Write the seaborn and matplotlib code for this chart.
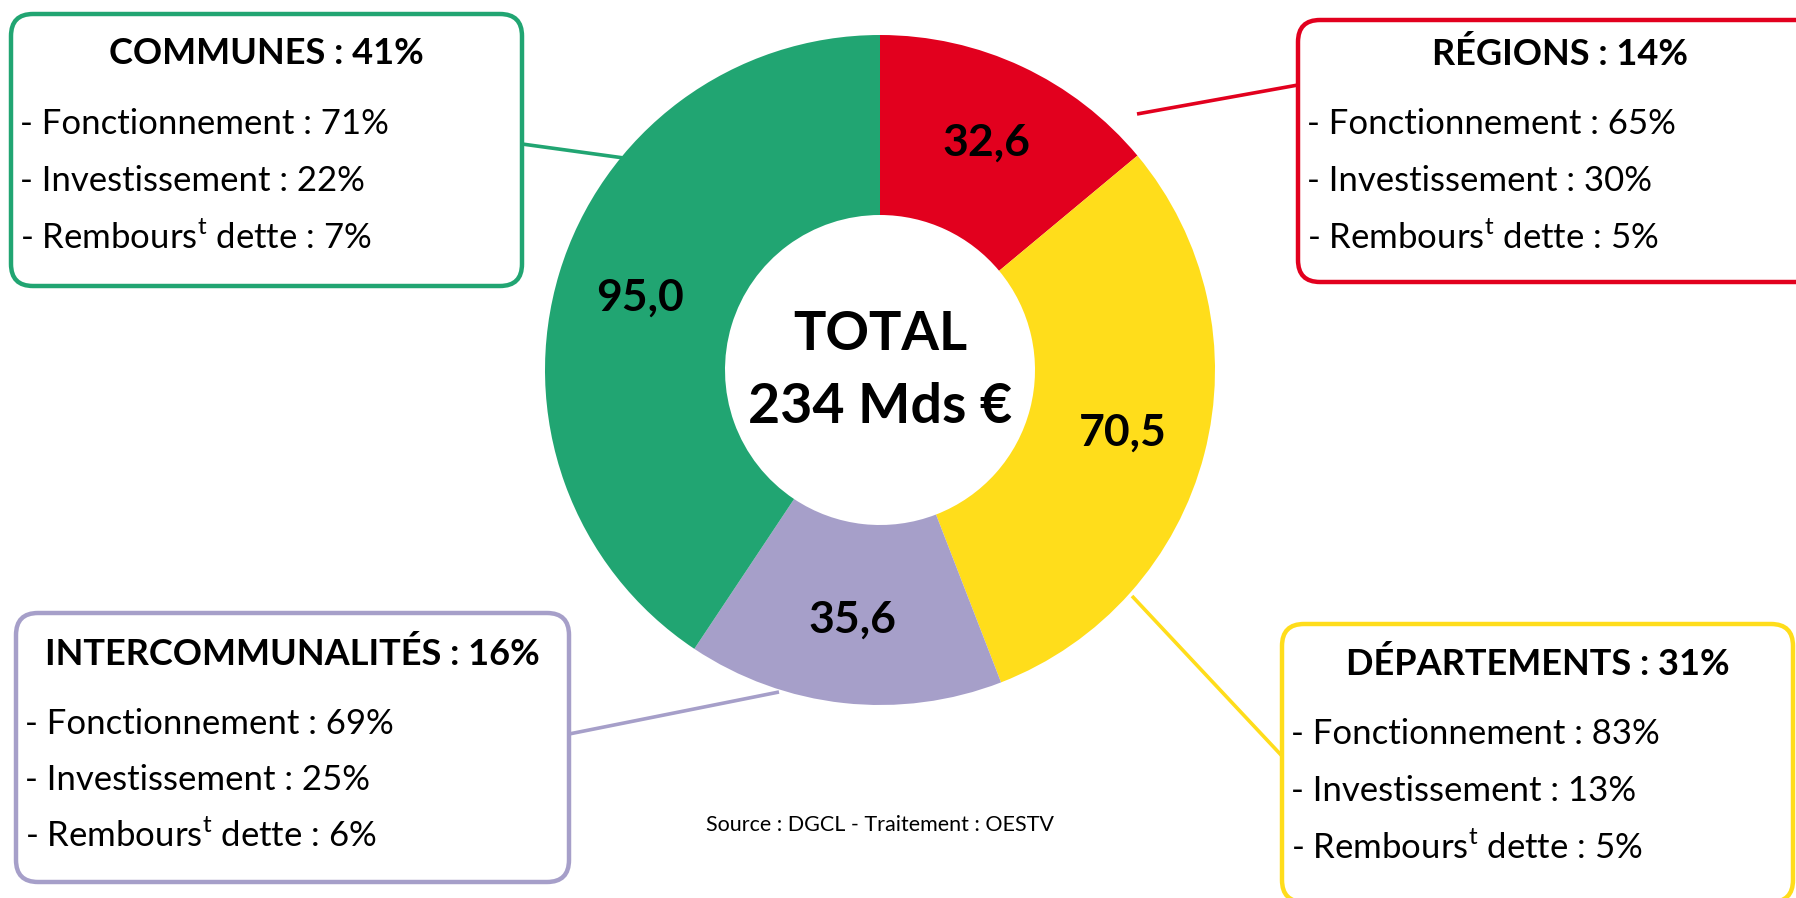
import matplotlib
matplotlib.use("Agg")
import matplotlib.pyplot as plt
from matplotlib.patches import FancyBboxPatch
import seaborn as sns

# data
categories = ["RÉGIONS", "DÉPARTEMENTS", "INTERCOMMUNALITÉS", "COMMUNES"]
amounts = [32.6, 70.5, 35.6, 95.0]
shares = [14, 31, 16, 41]
fonctionnement = [65, 83, 69, 71]
investissement = [30, 13, 25, 22]
remboursement = [5, 5, 6, 7]
colors = ["#E2001E", "#FFDD1B", "#A69FC9", "#21A572"]
total_label = "234 Mds €"
source = "Source : DGCL - Traitement : OESTV"

W, H = 1796, 898

sns.set_theme(style="white")
plt.rcParams["font.family"] = ["Lato", "DejaVu Sans"]
plt.rcParams["text.color"] = "black"
plt.rcParams["mathtext.fontset"] = "custom"
plt.rcParams["mathtext.rm"] = "Lato"

fig = plt.figure(figsize=(W / 100, H / 100), dpi=100)
ax = fig.add_axes([0, 0, 1, 1])


def Y(y):
    return H - y


cx, cy, r_out, r_in = 880, 370, 335, 155
total = sum(amounts)

# connectors (pixel layout: box anchor -> donut edge)
links = [((1298, 85), (1137, 114)),
         ((1282, 756), (1132, 596)),
         ((569, 734), (779, 692)),
         ((522, 144), (624, 158))]
for (p1, p2), c in zip(links, colors):
    ax.plot([p1[0], p2[0]], [Y(p1[1]), Y(p2[1])], color=c, lw=2.6, zorder=1,
            solid_capstyle="butt")

wedges, texts, autotexts = ax.pie(
    amounts, colors=colors, startangle=90, counterclock=False,
    center=(cx, Y(cy)), radius=r_out,
    wedgeprops=dict(width=r_out - r_in, linewidth=0),
    autopct=lambda p: f"{p * total / 100:.1f}".replace(".", ","),
    pctdistance=0.75,
    textprops=dict(fontsize=32, fontweight="bold", color="black"),
)
for w in wedges:
    w.set_zorder(2)
for t in autotexts:
    t.set_zorder(3)

ax.text(cx, Y(334), "TOTAL", ha="center", va="center", fontsize=39,
        fontweight="bold", zorder=3)
ax.text(cx, Y(407), total_label, ha="center", va="center", fontsize=40,
        fontweight="bold", zorder=3)

# boxes: left, top, right, bottom, title y, first line y, line step
boxes = [(1298, 20, 1822, 282, 54, 124, 57),
         (1282, 624, 1793, 902, 664, 734, 57),
         (16, 613, 569, 882, 654, 724, 56),
         (11, 14, 522, 286, 54, 124, 57)]

for i, (l, t, rr, b, ty, ly, step) in enumerate(boxes):
    box = FancyBboxPatch((l, Y(b)), rr - l, b - t,
                         boxstyle="round,pad=0,rounding_size=22",
                         fc="white", ec=colors[i], lw=3.2, zorder=2)
    ax.add_patch(box)
    ax.text((l + rr) / 2, Y(ty), f"{categories[i]} : {shares[i]}%",
            ha="center", va="center", fontsize=26, fontweight="bold", zorder=3)
    lines = [f"- Fonctionnement : {fonctionnement[i]}%",
             f"- Investissement : {investissement[i]}%",
             f"- Rembours$^{{\\mathrm{{t}}}}$ dette : {remboursement[i]}%"]
    for k, s in enumerate(lines):
        ax.text(l + 9, Y(ly + k * step), s, ha="left", va="center",
                fontsize=25, zorder=3)

ax.text(cx, Y(825), source, ha="center", va="center", fontsize=15.5)

ax.set_xlim(0, W)
ax.set_ylim(0, H)
ax.set_aspect("equal")
ax.axis("off")

fig.savefig("out.png", dpi=100, facecolor="white")
